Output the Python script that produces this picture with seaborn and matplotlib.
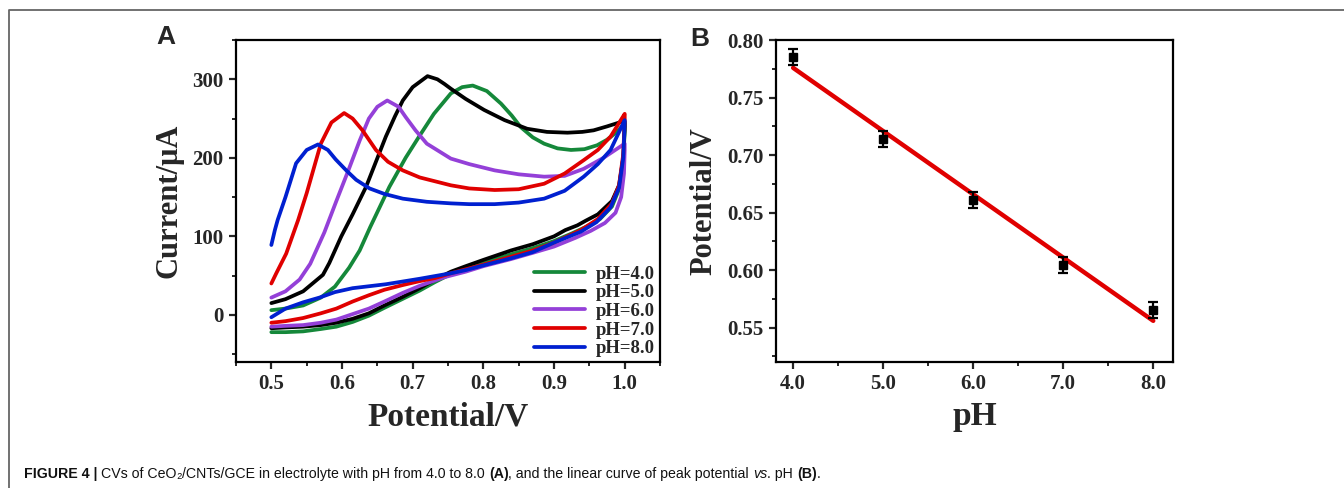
import numpy as np
import pandas as pd
import matplotlib.pyplot as plt
import seaborn as sns
from matplotlib.lines import Line2D
from matplotlib.ticker import MultipleLocator

# ---- panel A: cyclic voltammograms (anodic sweep, then back) ----
ph_labels = ["pH=4.0", "pH=5.0", "pH=6.0", "pH=7.0", "pH=8.0"]
ph_colors = ["#15883a", "#000000", "#9440d8", "#e00000", "#0020d0"]

v_ph4 = [0.500, 0.520, 0.545, 0.570, 0.590, 0.610, 0.625, 0.640, 0.667, 0.690, 0.709, 0.730,
         0.754, 0.770, 0.785, 0.805, 0.825, 0.840, 0.853, 0.870, 0.886, 0.905, 0.924, 0.943,
         0.961, 0.975, 0.989, 1.000,
         1.000, 0.998, 0.992, 0.982, 0.965, 0.945, 0.926, 0.900, 0.870, 0.839, 0.800, 0.775,
         0.754, 0.732, 0.710, 0.685, 0.660, 0.638, 0.615, 0.592, 0.570, 0.545, 0.520, 0.500]
i_ph4 = [6, 8, 12, 22, 36, 60, 82, 112, 163, 200, 227, 256,
         282, 290, 292, 285, 269, 254, 239, 226, 218, 212, 210, 211,
         216, 223, 233, 244,
         235, 195, 160, 138, 122, 112, 104, 94, 85, 77, 67, 59,
         52, 42, 31, 20, 9, -1, -9, -15, -18, -21, -22, -22]

v_ph5 = [0.500, 0.520, 0.545, 0.573, 0.582, 0.599, 0.615, 0.634, 0.648, 0.662, 0.675, 0.686,
         0.700, 0.721, 0.735, 0.745, 0.754, 0.775, 0.801, 0.830, 0.862, 0.890, 0.919, 0.940,
         0.956, 0.975, 0.996, 1.000,
         1.000, 0.998, 0.992, 0.982, 0.962, 0.945, 0.933, 0.916, 0.900, 0.870, 0.839, 0.800,
         0.775, 0.754, 0.732, 0.710, 0.686, 0.660, 0.638, 0.615, 0.592, 0.570, 0.545, 0.520, 0.500]
i_ph5 = [15, 20, 30, 51, 66, 100, 128, 163, 195, 227, 253, 273,
         290, 304, 300, 294, 288, 275, 261, 248, 237, 233, 232, 233,
         235, 240, 246, 246,
         240, 200, 165, 145, 128, 120, 114, 108, 100, 90, 82, 70,
         62, 55, 45, 34, 23, 12, 2, -5, -10, -13, -15, -16, -17]

v_ph6 = [0.500, 0.520, 0.540, 0.555, 0.575, 0.592, 0.609, 0.625, 0.638, 0.650, 0.664, 0.680,
         0.690, 0.704, 0.720, 0.754, 0.780, 0.816, 0.850, 0.886, 0.915, 0.942, 0.970, 1.000,
         1.000, 0.999, 0.995, 0.987, 0.972, 0.952, 0.930, 0.900, 0.870, 0.839, 0.800, 0.775,
         0.745, 0.732, 0.710, 0.686, 0.660, 0.638, 0.615, 0.592, 0.570, 0.545, 0.520, 0.500]
i_ph6 = [22, 30, 45, 65, 105, 145, 184, 222, 250, 265, 273, 265,
         252, 235, 218, 199, 192, 184, 179, 176, 177, 186, 200, 218,
         210, 180, 150, 130, 117, 107, 98, 87, 79, 71, 62, 55,
         48, 44, 37, 28, 17, 8, 1, -6, -10, -13, -14, -15]

v_ph7 = [0.500, 0.507, 0.521, 0.538, 0.550, 0.570, 0.585, 0.603, 0.615, 0.629, 0.648, 0.665,
         0.686, 0.710, 0.754, 0.780, 0.816, 0.850, 0.886, 0.915, 0.942, 0.962, 0.980, 1.000,
         1.000, 0.998, 0.992, 0.982, 0.962, 0.938, 0.900, 0.870, 0.839, 0.800, 0.775, 0.754,
         0.732, 0.710, 0.686, 0.660, 0.638, 0.615, 0.592, 0.570, 0.545, 0.520, 0.500]
i_ph7 = [40, 53, 78, 121, 155, 218, 245, 257, 250, 235, 210, 195,
         184, 175, 165, 161, 159, 160, 167, 180, 197, 210, 227, 256,
         250, 205, 165, 142, 122, 108, 92, 82, 74, 64, 58, 53,
         47, 43, 38, 32, 25, 17, 8, 2, -4, -8, -10]

v_ph8 = [0.500, 0.505, 0.509, 0.520, 0.535, 0.550, 0.566, 0.580, 0.591, 0.606, 0.620, 0.639,
         0.660, 0.686, 0.720, 0.754, 0.780, 0.816, 0.850, 0.886, 0.915, 0.942, 0.962, 0.980,
         1.000,
         1.000, 0.998, 0.992, 0.980, 0.960, 0.938, 0.900, 0.870, 0.839, 0.800, 0.775, 0.754,
         0.710, 0.662, 0.615, 0.590, 0.568, 0.545, 0.520, 0.500]
i_ph8 = [89, 108, 121, 150, 193, 210, 217, 210, 198, 184, 172, 161,
         154, 148, 144, 142, 141, 141, 143, 148, 158, 176, 192, 210,
         248,
         245, 200, 162, 137, 118, 106, 92, 80, 72, 63, 57, 53,
         46, 39, 34, 29, 22, 16, 8, -3]

# ---- panel B: peak potential vs pH ----
ph_values = [4.0, 5.0, 6.0, 7.0, 8.0]
ph_ticklabels = ["4.0", "5.0", "6.0", "7.0", "8.0"]
peak_potential = [0.785, 0.714, 0.661, 0.604, 0.565]
peak_err = [0.007, 0.007, 0.007, 0.007, 0.007]
e_ticks = [0.55, 0.60, 0.65, 0.70, 0.75, 0.80]

cv = pd.concat([
    pd.DataFrame({"Potential": v, "Current": i, "pH": lab})
    for v, i, lab in zip([v_ph4, v_ph5, v_ph6, v_ph7, v_ph8],
                         [i_ph4, i_ph5, i_ph6, i_ph7, i_ph8], ph_labels)
], ignore_index=True)
peaks = pd.DataFrame({"pH": ph_values, "E": peak_potential, "err": peak_err})

sns.set_style("ticks")
plt.rcParams["font.family"] = ["Liberation Serif", "DejaVu Serif"]
plt.rcParams["font.weight"] = "bold"
plt.rcParams["axes.labelweight"] = "bold"
plt.rcParams["axes.linewidth"] = 1.6
plt.rcParams["xtick.direction"] = "out"
plt.rcParams["ytick.direction"] = "out"

fig = plt.figure(figsize=(13.44, 4.88), dpi=100)
ax1 = fig.add_axes([0.1756, 0.2582, 0.3155, 0.6598])
ax2 = fig.add_axes([0.5774, 0.2582, 0.2954, 0.6598])

sns.lineplot(data=cv, x="Potential", y="Current", hue="pH", sort=False, estimator=None,
             palette=dict(zip(ph_labels, ph_colors)), linewidth=2.7, ax=ax1)
ax1.set_xlim(0.45, 1.05)
ax1.set_ylim(-60, 350)
ax1.xaxis.set_major_locator(MultipleLocator(0.1))
ax1.xaxis.set_minor_locator(MultipleLocator(0.05))
ax1.yaxis.set_major_locator(MultipleLocator(100))
ax1.yaxis.set_minor_locator(MultipleLocator(50))
ax1.set_xlabel("Potential/V", fontsize=24, labelpad=5)
ax1.set_ylabel("Current/μA", fontsize=22, labelpad=6)
ax1.legend(loc="lower right", frameon=False, fontsize=13.5, handlelength=2.7,
           labelspacing=0.08, borderaxespad=0.15, borderpad=0.1, handletextpad=0.6)
for lh in ax1.get_legend().get_lines():
    lh.set_linewidth(2.7)

ax2.errorbar(peaks["pH"], peaks["E"], yerr=peaks["err"], fmt="s", color="black",
             ms=5.5, capsize=3.5, elinewidth=1.6, capthick=1.6, zorder=3)
sns.regplot(data=peaks, x="pH", y="E", ci=None, scatter=False,
            line_kws={"color": "#e00000", "lw": 3.2}, ax=ax2)
ax2.set_xlim(3.81, 8.22)
ax2.set_ylim(0.52, 0.80)
ax2.set_xticks(ph_values)
ax2.set_xticklabels(ph_ticklabels)
ax2.xaxis.set_minor_locator(MultipleLocator(0.5))
ax2.set_yticks(e_ticks)
ax2.set_yticklabels([f"{t:.2f}" for t in e_ticks])
ax2.yaxis.set_minor_locator(MultipleLocator(0.025))
ax2.set_xlabel("pH", fontsize=24, labelpad=5)
ax2.set_ylabel("Potential/V", fontsize=22, labelpad=6)

for ax in (ax1, ax2):
    ax.tick_params(which="major", length=5, width=1.6, labelsize=15, pad=4)
    ax.tick_params(which="minor", length=3, width=1.4)
    for s in ax.spines.values():
        s.set_visible(True)
        s.set_linewidth(1.6)
        s.set_color("black")

fig.text(166 / 1344, 1 - 37 / 488, "A", fontsize=19, fontweight="bold",
         family="Liberation Sans", ha="center", va="center")
fig.text(700 / 1344, 1 - 39 / 488, "B", fontsize=19, fontweight="bold",
         family="Liberation Sans", ha="center", va="center")

# outer frame (top and left edges visible)
fig.add_artist(Line2D([9 / 1344, 9 / 1344, 1.0], [0.0, 1 - 10 / 488, 1 - 10 / 488],
                      transform=fig.transFigure, color="#666666", lw=1.3))

# caption built from styled pieces
cap_font = ["Liberation Sans", "DejaVu Sans"]
cap_size = 10.2
pieces = [("CVs of CeO", "normal", "normal"), ("₂", "normal", "normal"),
          ("/CNTs/GCE in electrolyte with pH from 4.0 to 8.0 ", "normal", "normal"),
          ("(A)", "bold", "normal"), (", and the linear curve of peak potential ", "normal", "normal"),
          ("vs", "normal", "italic"), (". pH ", "normal", "normal"), ("(B)", "bold", "normal"),
          (".", "normal", "normal")]
prev = fig.text(24 / 1344, 1 - 478 / 488, "FIGURE 4 | ", fontsize=cap_size, fontweight="bold",
                family=cap_font, va="baseline", color="#111111")
for txt, w, st in pieces:
    prev = fig.add_artist(plt.Annotation(txt, xy=(1, 0), xycoords=prev, va="bottom", ha="left",
                                         fontsize=cap_size, fontweight=w, style=st,
                                         family=cap_font, color="#111111",
                                         annotation_clip=False))

fig.savefig("out.png", dpi=100)
